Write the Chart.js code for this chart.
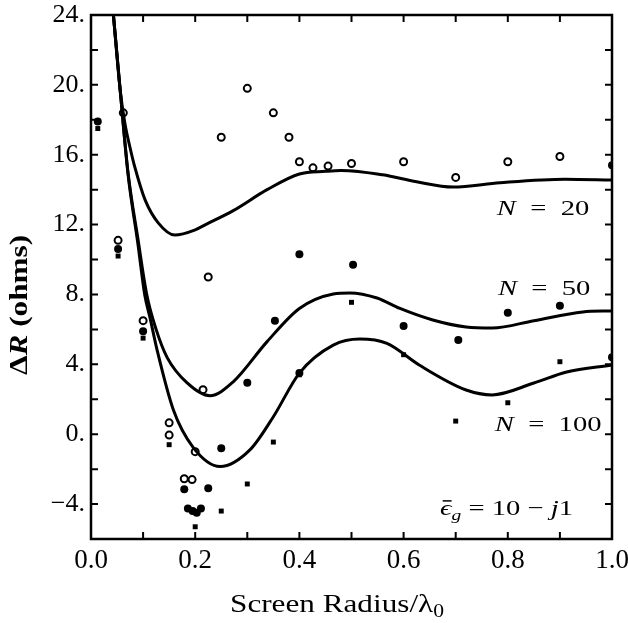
<!DOCTYPE html>
<html>
<head>
<meta charset="utf-8">
<script src="https://cdn.jsdelivr.net/npm/chart.js@4.4.1/dist/chart.umd.min.js"></script>
<style>
  html, body { margin: 0; padding: 0; background: #fff; }
  canvas { display: block; }
</style>
</head>
<body>
<canvas id="grafico" width="628" height="623"></canvas>
<script>
// === CURVAS TEÓRICAS ===
const n20X = [0.038, 0.043, 0.056, 0.065, 0.075, 0.084, 0.104, 0.129, 0.161, 0.20, 0.22, 0.273, 0.338, 0.40, 0.45, 0.48, 0.56, 0.625, 0.695, 0.785, 0.91, 1.0];
const n20Y = [25.6, 24.0, 19.7, 17.8, 16.4, 15.3, 13.4, 12.1, 11.4, 11.7, 12.0, 12.8, 14.0, 14.9, 15.05, 15.1, 14.85, 14.45, 14.15, 14.4, 14.6, 14.55];

const n50X = [0.038, 0.043, 0.056, 0.071, 0.09, 0.107, 0.125, 0.146, 0.184, 0.228, 0.273, 0.338, 0.40, 0.465, 0.497, 0.549, 0.593, 0.656, 0.72, 0.77, 0.85, 0.944, 1.0];
const n50Y = [25.8, 24.0, 19.7, 15.0, 11.2, 8.0, 6.0, 4.4, 2.95, 2.2, 3.0, 5.3, 7.2, 8.03, 8.09, 7.8, 7.2, 6.54, 6.14, 6.08, 6.5, 7.0, 7.06];

const n100X = [0.038, 0.043, 0.056, 0.071, 0.09, 0.103, 0.113, 0.127, 0.158, 0.196, 0.248, 0.305, 0.35, 0.40, 0.465, 0.516, 0.568, 0.63, 0.72, 0.77, 0.85, 0.913, 1.0];
const n100Y = [25.8, 24.0, 19.7, 14.9, 10.9, 8.0, 6.7, 4.8, 1.4, -0.75, -1.85, -0.9, 1.0, 3.5, 5.1, 5.45, 5.2, 3.96, 2.53, 2.25, 2.93, 3.56, 3.97];

// === MEDIDAS (pontos) ===
const abertosX = [0.062, 0.052, 0.10, 0.15, 0.15, 0.179, 0.194, 0.20, 0.215, 0.225, 0.25, 0.30, 0.35, 0.38, 0.40, 0.426, 0.455, 0.50, 0.60, 0.70, 0.80, 0.90];
const abertosY = [18.4, 11.1, 6.5, 0.65, -0.05, -2.55, -2.6, -1.0, 2.55, 9.0, 17.0, 19.8, 18.4, 17.0, 15.6, 15.25, 15.35, 15.5, 15.6, 14.7, 15.6, 15.9];

const cheiosX = [0.013, 0.052, 0.10, 0.179, 0.225, 0.186, 0.195, 0.203, 0.211, 0.25, 0.30, 0.353, 0.40, 0.40, 0.503, 0.60, 0.705, 0.80, 0.90, 1.0, 1.0];
const cheiosY = [17.9, 10.6, 5.9, -3.15, -3.1, -4.25, -4.4, -4.5, -4.25, -0.8, 2.95, 6.5, 3.5, 10.3, 9.7, 6.2, 5.4, 6.95, 7.35, 4.4, 15.4];

const quadX = [0.013, 0.052, 0.10, 0.15, 0.20, 0.25, 0.30, 0.35, 0.40, 0.50, 0.60, 0.70, 0.80, 0.90];
const quadY = [17.5, 10.2, 5.5, -0.6, -5.3, -4.4, -2.85, -0.45, 3.4, 7.55, 4.55, 0.75, 1.8, 4.15];

// ticks
const xMin = 0, xMax = 1.0, xPasso = 0.1;
const yMin = -6, yMax = 24, yPasso = 2;

const SERIF = '"Liberation Serif", "Times New Roman", serif';

function pares(xs, ys) {
    return xs.map((x, i) => ({ x: x, y: ys[i] }));
}

function curva(xs, ys) {
    return {
        type: 'line',
        data: pares(xs, ys),
        borderColor: '#000',
        borderWidth: 3,
        pointRadius: 0,
        fill: false,
        cubicInterpolationMode: 'monotone'
    };
}

// desenha texto em pedaços (fontes diferentes), esticado na horizontal
function desenharPartes(ctx, partes, x, y, alinhar, esticar) {
    let total = 0;
    partes.forEach(p => {
        ctx.font = p.fonte;
        p.w = ctx.measureText(p.t).width;
        total += p.w;
    });
    ctx.save();
    ctx.translate(x, y);
    ctx.scale(esticar, 1);
    ctx.fillStyle = '#000';
    ctx.strokeStyle = '#000';
    ctx.textAlign = 'left';
    ctx.textBaseline = 'alphabetic';
    let cx = alinhar === 'center' ? -total / 2 : 0;
    partes.forEach(p => {
        ctx.font = p.fonte;
        ctx.fillText(p.t, cx, p.dy || 0);
        if (p.barra) {
            ctx.lineWidth = 1.5;
            ctx.beginPath();
            ctx.moveTo(cx + 2, -p.barra);
            ctx.lineTo(cx + p.w, -p.barra);
            ctx.stroke();
        }
        cx += p.w;
    });
    ctx.restore();
}

const ital = s => `italic ${s}px ${SERIF}`;
const norm = s => `${s}px ${SERIF}`;

// rótulos das curvas (âncora em coordenadas de dados)
const rotulos = [
    { x: 0.779, y: 12.55, partes: [{ t: 'N', fonte: ital(22) }, { t: '  =  ', fonte: norm(22) }, { t: '20', fonte: norm(22) }] },
    { x: 0.781, y: 7.97, partes: [{ t: 'N', fonte: ital(22) }, { t: '  =  ', fonte: norm(22) }, { t: '50', fonte: norm(22) }] },
    { x: 0.775, y: 0.19, partes: [{ t: 'N', fonte: ital(22) }, { t: '  =  ', fonte: norm(22) }, { t: '100', fonte: norm(22) }] },
    { x: 0.67, y: -4.62, partes: [
        { t: 'ϵ', fonte: ital(22), barra: 14 },
        { t: 'g', fonte: ital(15), dy: 5 },
        { t: ' = 10 − ', fonte: norm(22) },
        { t: 'j', fonte: ital(22) },
        { t: '1', fonte: norm(22) }
    ] }
];

const molduraPlugin = {
    id: 'moldura',
    afterDraw(chart) {
        const { ctx, chartArea: a, scales: { x, y } } = chart;
        ctx.save();
        ctx.strokeStyle = '#000';
        ctx.lineWidth = 2.5;
        ctx.strokeRect(a.left, a.top, a.right - a.left, a.bottom - a.top);

        // ticks para dentro, nos quatro lados
        const tam = 7;
        ctx.lineWidth = 2;
        ctx.beginPath();
        x.ticks.forEach(t => {
            const px = x.getPixelForValue(t.value);
            if (px <= a.left + 2 || px >= a.right - 2) return;
            ctx.moveTo(px, a.bottom); ctx.lineTo(px, a.bottom - tam);
            ctx.moveTo(px, a.top); ctx.lineTo(px, a.top + tam);
        });
        y.ticks.forEach(t => {
            const py = y.getPixelForValue(t.value);
            if (py <= a.top + 2 || py >= a.bottom - 2) return;
            ctx.moveTo(a.left, py); ctx.lineTo(a.left + tam, py);
            ctx.moveTo(a.right, py); ctx.lineTo(a.right - tam, py);
        });
        ctx.stroke();

        rotulos.forEach(r => {
            desenharPartes(ctx, r.partes, x.getPixelForValue(r.x), y.getPixelForValue(r.y), 'left', 1.3);
        });

        // título do eixo x
        desenharPartes(ctx, [
            { t: 'Screen Radius/λ', fonte: norm(26) },
            { t: '0', fonte: norm(18), dy: 5 }
        ], 337, 612, 'center', 1.2);

        // título do eixo y (rotacionado)
        ctx.save();
        ctx.translate(27, 305);
        ctx.rotate(-Math.PI / 2);
        desenharPartes(ctx, [
            { t: 'Δ', fonte: `bold 26px ${SERIF}` },
            { t: 'R', fonte: `bold italic 26px ${SERIF}` },
            { t: ' (ohms)', fonte: `bold 26px ${SERIF}` }
        ], 0, 0, 'center', 1.2);
        ctx.restore();

        ctx.restore();
    }
};

const ctxGrafico = document.getElementById('grafico');
new Chart(ctxGrafico, {
    type: 'scatter',
    data: {
        datasets: [
            curva(n20X, n20Y),
            curva(n50X, n50Y),
            curva(n100X, n100Y),
            {
                data: pares(abertosX, abertosY),
                pointStyle: 'circle',
                pointRadius: 3.5,
                pointBorderWidth: 2,
                pointBackgroundColor: '#fff',
                pointBorderColor: '#000'
            },
            {
                data: pares(cheiosX, cheiosY),
                pointStyle: 'circle',
                pointRadius: 4,
                pointBorderWidth: 0,
                pointBackgroundColor: '#000',
                pointBorderColor: '#000'
            },
            {
                data: pares(quadX, quadY),
                pointStyle: 'rect',
                pointRadius: 3.5,
                pointBorderWidth: 0,
                pointBackgroundColor: '#000',
                pointBorderColor: '#000'
            }
        ]
    },
    options: {
        responsive: false,
        animation: false,
        layout: { padding: { top: 15, right: 16, left: 0, bottom: 0 } },
        plugins: { legend: { display: false }, tooltip: { enabled: false } },
        scales: {
            x: {
                type: 'linear',
                min: xMin, max: xMax,
                grid: { display: false, drawTicks: false },
                border: { display: false },
                ticks: {
                    stepSize: xPasso,
                    autoSkip: false,
                    maxRotation: 0,
                    padding: 6,
                    color: '#000',
                    font: { family: SERIF, size: 27 },
                    callback: v => (Math.round(v * 10) % 2 === 0 ? v.toFixed(1) : '')
                },
                afterFit: s => { s.height = 84; s.paddingLeft = 0; s.paddingRight = 0; }
            },
            y: {
                min: yMin, max: yMax,
                grid: { display: false, drawTicks: false },
                border: { display: false },
                ticks: {
                    stepSize: yPasso,
                    autoSkip: false,
                    padding: 6,
                    color: '#000',
                    font: { family: SERIF, size: 26 },
                    callback: v => (v % 4 === 0 ? (v < 0 ? '−' + Math.abs(v) : v) + '.' : '')
                },
                afterFit: s => { s.width = 91; s.paddingTop = 0; s.paddingBottom = 0; }
            }
        }
    },
    plugins: [molduraPlugin]
});
</script>
</body>
</html>
